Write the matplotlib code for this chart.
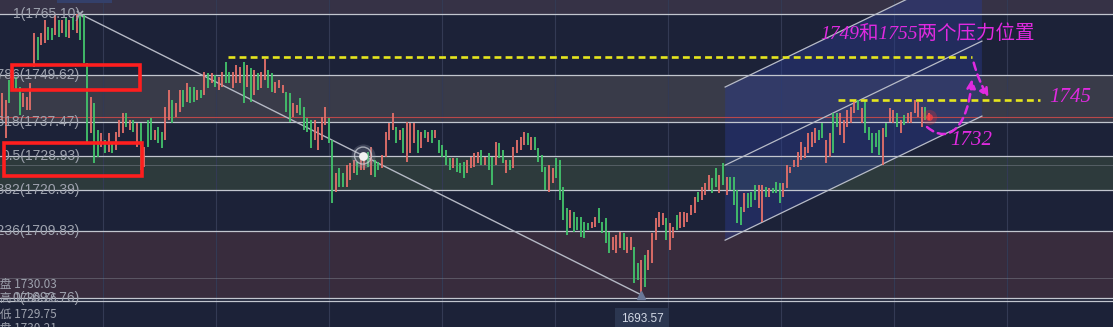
import numpy as np
import matplotlib
matplotlib.use("Agg")
import matplotlib.pyplot as plt
from matplotlib.patches import Rectangle, Polygon, FancyArrowPatch
from matplotlib.path import Path

# ---------------- data ----------------
highs = [
    1745.0, 1743.2, 1748.3, 1750.3, 1749.1, 1746.5, 1745.0, 1744.0, 1747.5, 1760.3,
    1759.3, 1760.3, 1763.6, 1761.8, 1761.5, 1764.9, 1763.6, 1763.6, 1764.1, 1763.6,
    1764.3, 1765.0, 1765.1, 1764.9, 1752.6, 1744.0, 1742.4, 1735.6, 1734.8, 1733.0,
    1734.8, 1732.2, 1735.0, 1738.1, 1739.9, 1739.9, 1738.1, 1738.1, 1737.3, 1737.3,
    1731.2, 1738.1, 1738.6, 1735.6, 1736.3, 1735.0, 1741.4, 1745.8, 1743.2, 1742.4,
    1745.8, 1745.8, 1747.5, 1746.5, 1746.5, 1745.8, 1745.8, 1750.3, 1750.1, 1750.1,
    1749.6, 1749.1, 1750.3, 1752.9, 1750.3, 1750.3, 1752.1, 1751.6, 1752.9, 1752.1,
    1751.4, 1750.8, 1750.1, 1750.3, 1753.6, 1750.8, 1750.1, 1747.8, 1748.3, 1747.0,
    1745.2, 1745.0, 1742.4, 1741.9, 1743.7, 1741.4, 1738.6, 1738.1, 1738.1, 1736.3,
    1738.9, 1741.4, 1738.6, 1733.0, 1724.6, 1725.9, 1724.6, 1726.6, 1727.2, 1727.9,
    1727.4, 1729.2, 1728.7, 1730.0, 1731.2, 1727.9, 1727.4, 1729.2, 1735.0, 1737.3,
    1739.9, 1736.3, 1735.6, 1736.1, 1737.6, 1737.3, 1737.3, 1735.6, 1735.0, 1735.6,
    1735.0, 1735.6, 1735.6, 1733.0, 1731.7, 1730.5, 1728.4, 1728.4, 1728.4, 1727.2,
    1727.4, 1727.9, 1728.7, 1729.7, 1730.0, 1730.5, 1728.7, 1729.7, 1728.7, 1732.5,
    1732.2, 1730.5, 1727.9, 1727.9, 1731.2, 1733.0, 1733.8, 1735.0, 1734.8, 1733.8,
    1733.8, 1731.0, 1729.2, 1726.1, 1726.6, 1725.9, 1728.4, 1727.9, 1721.0, 1715.7,
    1715.2, 1714.7, 1713.4, 1713.4, 1712.1, 1711.9, 1712.1, 1713.4, 1715.7, 1712.1,
    1713.1, 1709.6, 1708.3, 1708.8, 1709.6, 1709.3, 1708.3, 1708.3, 1705.8, 1701.7,
    1702.5, 1703.7, 1705.0, 1709.3, 1713.1, 1714.7, 1714.4, 1713.1, 1711.9, 1710.9,
    1713.9, 1714.7, 1714.7, 1714.4, 1716.5, 1718.5, 1719.8, 1721.0, 1722.1, 1724.1,
    1723.3, 1725.9, 1724.1, 1727.2, 1723.6, 1723.6, 1723.6, 1720.3, 1716.0, 1719.5,
    1719.5, 1719.8, 1721.5, 1721.5, 1721.5, 1721.0, 1720.8, 1720.8, 1722.3, 1722.1,
    1722.1, 1726.6, 1726.1, 1727.9, 1730.0, 1732.5, 1731.2, 1734.8, 1735.0, 1736.1,
    1735.6, 1737.3, 1733.0, 1734.8, 1739.9, 1739.9, 1739.9, 1738.1, 1740.7, 1741.4,
    1743.2, 1743.2, 1741.2, 1743.2, 1736.3, 1734.8, 1734.8, 1735.6, 1736.1, 1737.3,
    1741.2, 1740.7, 1739.9, 1738.1, 1739.4, 1739.9, 1740.1, 1743.2, 1742.7, 1741.4,
    1741.4, 1739.9,
]
lows = [
    1738.1, 1733.5, 1742.4, 1746.3, 1745.8, 1739.4, 1741.4, 1740.7, 1740.7, 1751.6,
    1753.4, 1757.2, 1757.7, 1758.5, 1758.5, 1759.8, 1759.3, 1760.3, 1759.3, 1759.0,
    1761.0, 1760.3, 1758.5, 1752.6, 1732.2, 1734.8, 1727.2, 1728.7, 1731.2, 1729.7,
    1730.0, 1729.7, 1730.5, 1733.8, 1734.8, 1736.3, 1735.6, 1735.0, 1731.2, 1725.4,
    1726.1, 1731.2, 1733.0, 1733.0, 1732.2, 1731.0, 1733.0, 1738.1, 1737.3, 1738.9,
    1740.1, 1741.4, 1742.7, 1742.4, 1742.7, 1743.2, 1743.7, 1744.5, 1746.3, 1747.5,
    1746.5, 1745.8, 1746.5, 1747.5, 1747.5, 1746.3, 1747.5, 1747.5, 1742.4, 1746.5,
    1742.7, 1744.5, 1745.8, 1746.3, 1748.3, 1746.3, 1745.2, 1745.0, 1746.3, 1745.0,
    1740.1, 1737.6, 1738.9, 1739.9, 1739.4, 1735.6, 1735.0, 1731.0, 1733.0, 1730.5,
    1733.0, 1736.8, 1732.2, 1717.0, 1719.8, 1721.0, 1721.0, 1721.0, 1722.8, 1724.6,
    1724.1, 1725.4, 1725.4, 1726.1, 1724.1, 1723.6, 1725.4, 1725.9, 1728.7, 1733.0,
    1735.6, 1732.2, 1733.0, 1729.7, 1727.4, 1729.7, 1732.2, 1729.7, 1731.0, 1733.5,
    1732.5, 1732.2, 1733.5, 1729.7, 1728.7, 1726.6, 1725.4, 1725.9, 1724.9, 1724.6,
    1723.3, 1724.6, 1725.9, 1726.1, 1727.2, 1726.6, 1726.6, 1725.4, 1721.5, 1726.6,
    1728.4, 1727.2, 1724.6, 1725.4, 1725.9, 1729.7, 1730.5, 1731.7, 1731.7, 1730.5,
    1730.5, 1727.4, 1724.9, 1720.3, 1719.8, 1722.1, 1723.3, 1717.7, 1712.6, 1708.8,
    1710.6, 1709.6, 1710.1, 1708.3, 1708.1, 1710.1, 1710.6, 1710.9, 1711.9, 1709.3,
    1706.8, 1704.2, 1705.0, 1704.2, 1705.5, 1705.0, 1704.2, 1705.0, 1696.6, 1697.3,
    1693.57, 1695.6, 1699.9, 1701.7, 1707.5, 1710.9, 1711.4, 1707.5, 1705.0, 1708.1,
    1710.1, 1710.6, 1710.9, 1712.1, 1713.9, 1714.4, 1717.2, 1717.7, 1719.0, 1720.3,
    1719.5, 1721.0, 1719.5, 1721.5, 1719.0, 1720.3, 1716.5, 1711.9, 1711.4, 1714.7,
    1715.7, 1716.0, 1717.7, 1715.7, 1712.1, 1718.5, 1718.5, 1719.5, 1719.5, 1717.0,
    1718.5, 1720.8, 1724.6, 1726.1, 1726.1, 1727.9, 1728.4, 1729.7, 1731.2, 1732.2,
    1733.0, 1733.5, 1727.2, 1728.7, 1729.7, 1736.3, 1734.3, 1732.2, 1736.3, 1737.3,
    1739.9, 1740.7, 1737.3, 1734.8, 1733.0, 1729.7, 1731.2, 1729.2, 1726.6, 1733.8,
    1737.6, 1737.3, 1736.3, 1734.8, 1736.8, 1737.3, 1737.3, 1739.9, 1738.9, 1736.3,
    1738.1, 1738.1,
]
# r = rising (red), g = falling (green)
directions = ("rrggggrrr" "rgrrggrgrgrgrgg" "grggrgrgrrrgrgrgrggrggrrg"
              "rrgrggrgrg" "rgrrggrrrg" "rgrgrrggrr" "rggrrggggr" "rrrggrgg"
              "rrrgrrg"
              "rggrrrrgrg" "rrrgrgrgrg" "gggrgggrrr" "rgrggrggrg" "rrrrgrgggg"
              "rrggggrggg" "ggrrggggrr" "rgrrggrgrr" "rrrgrrgrrr" "rrgrrrggrg"
              "rggggrgggr" "rgrgggrrrr" "rrrrrrggrr" "ggrrrrrgrg" "ggggrgrrgr"
              "grrrrrgr")

fib_ratios = ["1", "0.786", "0.618", "0.5", "0.382", "0.236", "0"]
fib_prices = [1765.10, 1749.62, 1737.47, 1728.93, 1720.39, 1709.83, 1692.76]

resistance_high = 1754.2     # yellow dashed (1755 zone)
resistance_mid = 1743.2      # yellow dashed (1745)
last_price = 1738.9          # thin red price line

channel_idx = [203.6, 275.9]          # start / end bar index of the channel
channel_lower = [1707.5, 1739.1]      # lower channel line prices
channel_offsets = [0.0, 19.1, 39.0]   # lower, middle, upper

ohlc_names = ["开盘", "最高", "最低", "收盘"]
ohlc_values = [1730.03, 1730.76, 1729.75, 1730.21]
low_label = 1693.57

assert len(highs) == len(lows) == len(directions)
N = len(highs)

# ---------------- figure / pixel helpers ----------------
W, H = 1113, 327
fig = plt.figure(figsize=(W / 100, H / 100), dpi=100)
ax = fig.add_axes([0, 0, 1, 1])
step = 927.0 / (N - 1)


def xd(px):
    return (px - 2) / step


def yd(py):
    return 1768.67 - 0.2547 * py


ax.set_xlim(xd(0), xd(W))
ax.set_ylim(yd(H), yd(0))
ax.axis("off")

BG = "#1c2238"
fig.patch.set_facecolor(BG)
ax.add_patch(Rectangle((0, 0), 1, 1, transform=ax.transAxes, color=BG, zorder=0))

# colored fib bands
ax.axhspan(fib_prices[0], yd(0), color="#363246", zorder=0.5, lw=0)
ax.axhspan(fib_prices[2], fib_prices[1], color="#393b49", zorder=0.5, lw=0)
ax.axhspan(fib_prices[4], fib_prices[3], color="#2d3a3c", zorder=0.5, lw=0)
ax.axhspan(fib_prices[6], fib_prices[5], color="#382c3d", zorder=0.5, lw=0)

# vertical grid
for gx in range(103, W, 113):
    ax.axvline(xd(gx), color="#333a54", lw=0.8, zorder=0.8)

# channel shading
cx = np.array(channel_idx)
lo = np.array(channel_lower)
ax.add_patch(Polygon([[cx[0], lo[0]], [cx[1], lo[1]],
                      [cx[1], lo[1] + channel_offsets[2]], [cx[0], lo[0] + channel_offsets[2]]],
                     closed=True, color="#2a3a8c", alpha=0.45, lw=0, zorder=0.9))

# fib lines
for p in fib_prices:
    ax.axhline(p, color="#c2c6cf", lw=0.9, zorder=1)
ax.axhline(yd(301), color="#c2c6cf", lw=0.9, zorder=1)
ax.axhline(yd(165), color="#8a8e9a", lw=0.6, alpha=0.5, zorder=1)
ax.axhline(yd(278), color="#8a8e9a", lw=0.6, alpha=0.5, zorder=1)
ax.axhline(last_price, color="#c84a4a", lw=0.8, alpha=0.9, zorder=1.1)

# candles
x = np.arange(N)
cols = ["#e5706a" if c == "r" else "#43c46c" for c in directions]
ax.vlines(x, lows, highs, colors=cols, lw=1.3, zorder=3)

# fib diagonal from high to low
i_hi = int(np.argmax(highs))
i_lo = int(np.argmin(lows))
ax.plot([i_hi, i_lo], [highs[i_hi], lows[i_lo]], color="#b4b8c4", lw=1.0, zorder=2)
ax.plot([i_hi], [highs[i_hi]], marker="x", color="#a8acb8", ms=5, mew=1.2, zorder=4)
ax.plot([i_lo], [lows[i_lo]], marker="^", color="#6a7898", ms=6, zorder=4)
cxm = xd(363)
cym = highs[i_hi] + (lows[i_lo] - highs[i_hi]) * (cxm - i_hi) / (i_lo - i_hi)
ax.scatter([cxm], [cym], s=300, color="#9aa0b0", alpha=0.25, zorder=4, lw=0)
ax.scatter([cxm], [cym], s=150, facecolor="none", edgecolor="#d0d4dc", alpha=0.7, lw=1, zorder=4)
ax.scatter([cxm], [cym], s=40, color="#f2f2f2", zorder=5, lw=0)

# channel lines
for off in channel_offsets:
    ax.plot(cx, lo + off, color="#b8bcc8", lw=0.9, zorder=2)

# yellow resistance lines
ax.plot([xd(228), xd(972)], [resistance_high] * 2, color="#e6e61e", lw=1.9,
        dashes=(2.6, 1.6), zorder=5)
ax.plot([xd(838), xd(1040)], [resistance_mid] * 2, color="#e6e61e", lw=1.9,
        dashes=(2.6, 1.6), zorder=5)

# red glow at last bar
ax.scatter([N - 1], [last_price], s=120, color="#ff3030", alpha=0.25, lw=0, zorder=4)
ax.scatter([N - 1], [last_price], s=25, color="#ff4040", alpha=0.7, lw=0, zorder=4)

# fib labels
for r, p in zip(fib_ratios, fib_prices):
    ax.text(xd(80), p, f"{r}({p:.2f})", ha="right", va="center", color="#9ea2ae",
            fontsize=10, family="Liberation Sans", zorder=6)

# OHLC info bottom-left
cjk = ["Noto Sans CJK SC", "DejaVu Sans"]
for k, (nm, v) in enumerate(zip(ohlc_names, ohlc_values)):
    ax.text(xd(57), yd(284 + 15 * k), f"{nm} {v:.2f}", ha="right", va="center",
            color="#9ea2ae", fontsize=8.5, family=cjk, zorder=6)

# red boxes
for (x0, y0, x1, y1) in [(12, 65, 140, 90), (4, 143, 142, 176)]:
    ax.add_patch(Rectangle((xd(x0), yd(y1)), xd(x1) - xd(x0), yd(y0) - yd(y1),
                           fill=False, ec="#ff1e1e", lw=2.6, zorder=7))

# low price label
ax.text(xd(642), yd(319), f"{low_label:.2f}", ha="center", va="center", color="#d4dae6",
        fontsize=8.5, family="Liberation Sans", zorder=7,
        bbox=dict(boxstyle="square,pad=0.45", fc="#2b3650", ec="none"))
ax.add_patch(Rectangle((xd(57), yd(3)), xd(112) - xd(57), yd(0) - yd(3),
                       color="#34406a", lw=0, zorder=6))

# magenta annotations
MAG = "#e02ae0"
ax.text(xd(928), yd(34), "1749和1755两个压力位置", ha="center", va="center", color=MAG,
        fontsize=14, style="italic", family=["Liberation Serif", "Noto Sans CJK SC"], zorder=8)
ax.text(xd(1070), yd(98), "1745", ha="center", va="center", color=MAG, fontsize=15,
        style="italic", family="Liberation Serif", zorder=8)
ax.text(xd(971), yd(141), "1732", ha="center", va="center", color=MAG, fontsize=15,
        style="italic", family="Liberation Serif", zorder=8)

a1 = FancyArrowPatch((xd(973), yd(60)), (xd(990), yd(100)), arrowstyle="-|>",
                     mutation_scale=13, connectionstyle="arc3,rad=0.08", color=MAG,
                     lw=1.8, linestyle=(0, (3, 2)), zorder=8)
ax.add_patch(a1)
verts = [(xd(927), yd(127)), (xd(950), yd(146)), (xd(968), yd(125)), (xd(972), yd(79))]
path = Path(verts, [Path.MOVETO, Path.CURVE4, Path.CURVE4, Path.CURVE4])
a2 = FancyArrowPatch(path=path, arrowstyle="-|>", mutation_scale=13, color=MAG,
                     lw=1.8, linestyle=(0, (3, 2)), zorder=8)
ax.add_patch(a2)

fig.savefig("out.png", dpi=100, facecolor=BG)
